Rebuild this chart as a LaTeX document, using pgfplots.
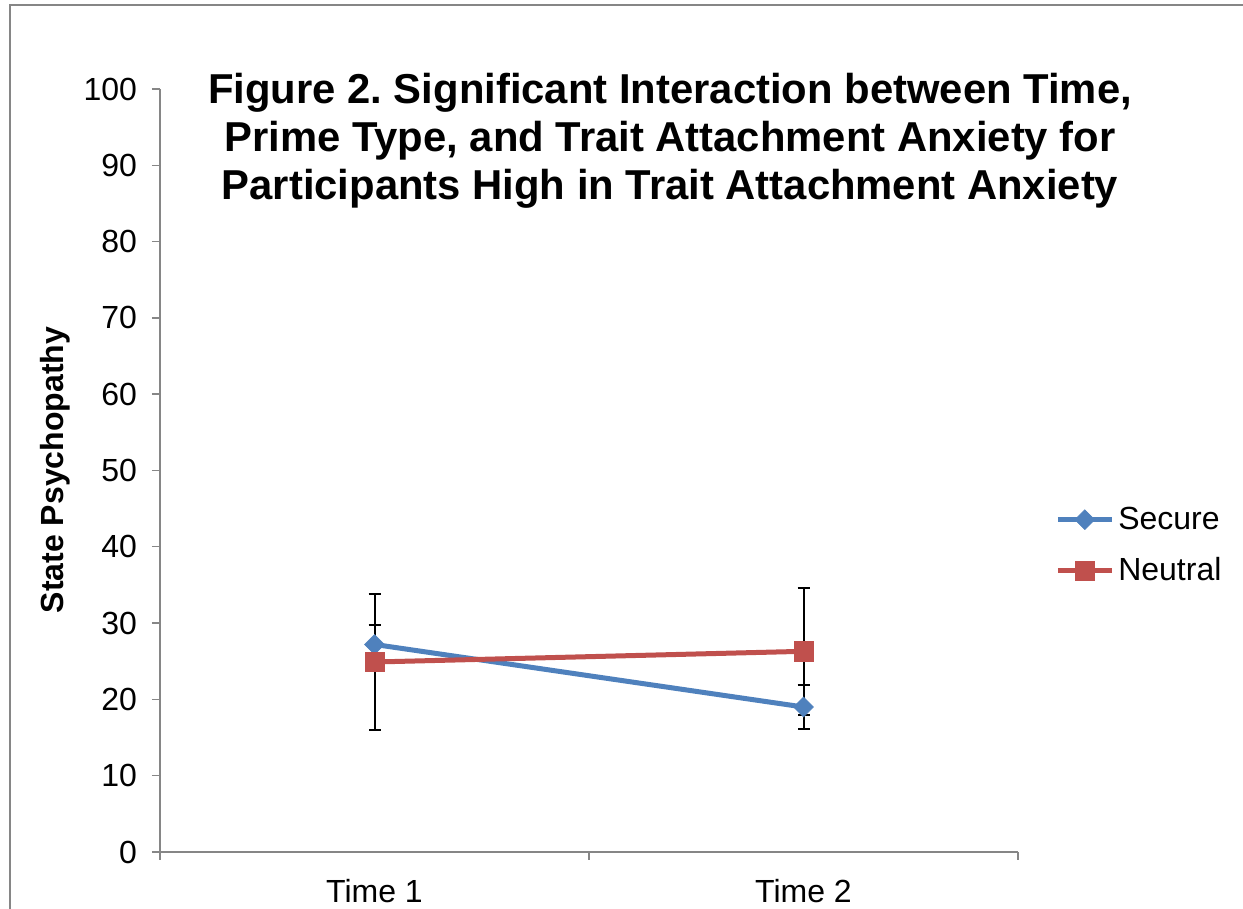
\documentclass[border=0pt]{standalone}
\usepackage{pgfplots}
\pgfplotsset{compat=1.18}
\usepackage{fontspec}
\setmainfont{Liberation Sans}
\definecolor{sblue}{HTML}{4F81BD}
\definecolor{nred}{HTML}{C0504D}
\definecolor{axgray}{HTML}{868686}
\frenchspacing
\begin{document}
\begin{tikzpicture}
\useasboundingbox (0,0) rectangle (621.5pt,454.5pt);
\fill[white] (0,0) rectangle (621.5pt,454.5pt);
\draw[axgray, line width=0.9pt] (5pt,0) -- (5pt,452pt) -- (621.5pt,452pt);
\begin{axis}[
  at={(80pt,28.5pt)}, anchor=south west,
  scale only axis, width=429pt, height=381.5pt,
  xmin=0, xmax=2, ymin=0, ymax=100,
  axis x line=bottom, axis y line=left,
  axis line style={axgray, line width=0.7pt, -},
  tick align=outside,
  xtick={0.5,1.5}, xticklabels={Time 1, Time 2},
  minor xtick={0,1,2},
  major x tick style={draw=none},
  minor x tick style={axgray, line width=0.7pt},
  minor tick length=4pt,
  ytick={0,10,...,100},
  major tick length=4pt,
  y tick style={axgray, line width=0.7pt},
  /pgf/number format/assume math mode=true,
  tick label style={font=\fontsize{16}{18}\selectfont, black},
  yticklabel style={xshift=-4pt},
  xticklabel style={yshift=-6pt},
  legend style={at={(1.036,0.402)}, anchor=west, draw=none, fill=none,
    font=\fontsize{16}{18}\selectfont, row sep=8.5pt,
    /tikz/every even column/.append style={column sep=2pt}},
  legend cell align=left,
  legend image code/.code={
    \draw[#1, mark=none] (0pt,0pt) -- (27pt,0pt);
    \draw[#1, draw=none] plot coordinates {(13.5pt,0pt)};
  },
  clip=false,
]
% error bars (behind)
\addplot[draw=none, mark=none, forget plot,
  error bars/.cd, y dir=both, y explicit,
  error bar style={black, line width=1pt},
  error mark options={black, line width=1pt, mark size=3pt, rotate=90}]
  coordinates {(0.5,27.2) +- (0,2.5) (1.5,19.0) +- (0,2.9)};
\addplot[draw=none, mark=none, forget plot,
  error bars/.cd, y dir=both, y explicit,
  error bar style={black, line width=1pt},
  error mark options={black, line width=1pt, mark size=3pt, rotate=90}]
  coordinates {(0.5,24.9) +- (0,8.9) (1.5,26.3) +- (0,8.3)};
% series
\addplot[sblue, line width=2.5pt, mark=square*, mark size=3.5pt,
  mark options={rotate=45, fill=sblue, draw=sblue, line width=0.3pt}]
  coordinates {(0.5,27.2) (1.5,19.0)};
\addlegendentry{Secure}
\addplot[nred, line width=2.5pt, mark=square*, mark size=4.8pt,
  mark options={fill=nred, draw=nred, line width=0.3pt}]
  coordinates {(0.5,24.9) (1.5,26.3)};
\addlegendentry{Neutral}
\end{axis}
\node[font=\bfseries\fontsize{20.9}{24}\selectfont, align=center, text=black]
  at (335pt,384pt) {Figure 2. Significant Interaction between Time,\\Prime Type, and Trait Attachment Anxiety for\\Participants High in Trait Attachment Anxiety};
\node[font=\bfseries\fontsize{16}{18}\selectfont, rotate=90] at (27.5pt,219.5pt) {State Psychopathy};
\end{tikzpicture}
\end{document}
